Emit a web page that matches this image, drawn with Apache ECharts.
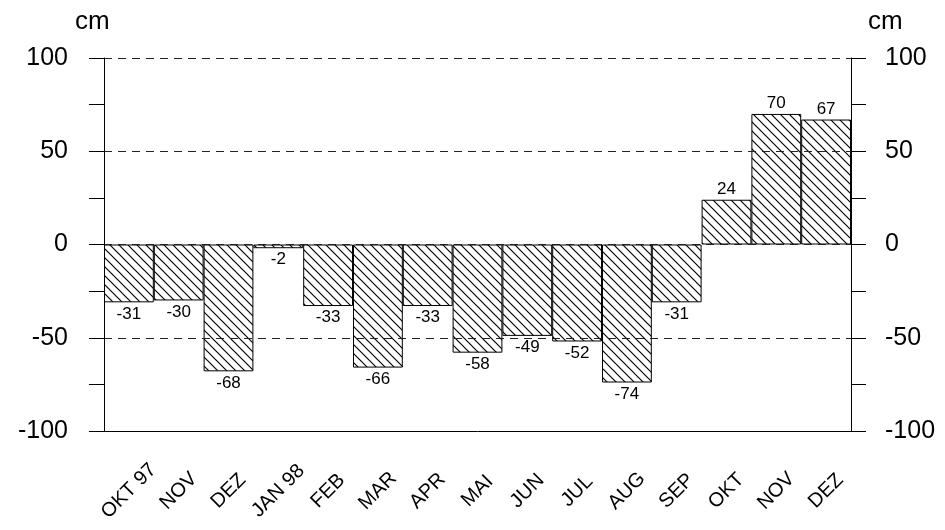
<!DOCTYPE html>
<html>
<head>
<meta charset="utf-8">
<script src="https://cdn.jsdelivr.net/npm/echarts@6/dist/echarts.min.js"></script>
<style>
html,body{margin:0;padding:0;background:#fff;}
#chart{width:945px;height:530px;}
</style>
</head>
<body>
<div id="chart"></div>
<script>
const categories = ['OKT 97','NOV','DEZ','JAN 98','FEB','MAR','APR','MAI','JUN','JUL','AUG','SEP','OKT','NOV','DEZ'];
const values = [-31,-30,-68,-2,-33,-66,-33,-58,-49,-52,-74,-31,24,70,67];
const yTicks = [-100,-50,0,50,100];
const unitLabel = 'cm';

const FONT = '"Liberation Sans", Arial, Helvetica, sans-serif';

// hatch pattern
const S = 9;
const hc = document.createElement('canvas');
hc.width = S; hc.height = S;
const hx = hc.getContext('2d');
hx.fillStyle = '#fff';
hx.fillRect(0,0,S,S);
hx.strokeStyle = '#000';
hx.lineWidth = 1.15;
hx.beginPath();
hx.moveTo(-1,-1); hx.lineTo(S+1,S+1);
hx.moveTo(-1,S-1); hx.lineTo(1,S+1);
hx.moveTo(S-1,-1); hx.lineTo(S+1,1);
hx.stroke();

const chart = echarts.init(document.getElementById('chart'), null, {renderer:'canvas'});

const yCommon = {
  type: 'value',
  min: yTicks[0],
  max: yTicks[yTicks.length-1],
  interval: 50,
  z: 5,
  axisLine: {show: true, lineStyle: {color: '#000', width: 1}},
  axisTick: {show: true, length: 15, lineStyle: {color: '#000'}},
  minorTick: {show: true, splitNumber: 2, length: 15, lineStyle: {color: '#000'}},
  axisLabel: {fontSize: 25, color: '#000', fontFamily: FONT},
};

chart.setOption({
  animation: false,
  backgroundColor: '#fff',
  grid: {left: 104, right: 94, top: 58, bottom: 99},
  graphic: [
    {type: 'text', left: 75, top: 9, style: {text: unitLabel, fontSize: 26, fontFamily: FONT, fill: '#000'}},
    {type: 'text', left: 868, top: 9, style: {text: unitLabel, fontSize: 26, fontFamily: FONT, fill: '#000'}}
  ],
  xAxis: {
    type: 'category',
    data: categories,
    position: 'bottom',
    z: 6,
    axisLine: {onZero: false, lineStyle: {color: '#000', width: 1}},
    axisTick: {alignWithLabel: true, length: 14, lineStyle: {color: '#000'}},
    axisLabel: {
      rotate: 45, align: 'center', verticalAlign: 'middle', margin: 60,
      fontSize: 20, color: '#000', fontFamily: FONT, interval: 0
    },
    splitLine: {show: false}
  },
  yAxis: [
    Object.assign({}, yCommon, {
      position: 'left',
      axisLabel: Object.assign({}, yCommon.axisLabel, {margin: 36}),
      splitLine: {show: true, lineStyle: {color: '#222', type: [8,6], width: 1}}
    }),
    Object.assign({}, yCommon, {
      position: 'right',
      axisLabel: Object.assign({}, yCommon.axisLabel, {margin: 34}),
      splitLine: {show: false}
    })
  ],
  series: [{
    type: 'bar',
    data: values.map(v => ({
      value: v,
      label: {position: v < 0 ? 'bottom' : 'top', distance: v < 0 ? 3 : 2}
    })),
    barCategoryGap: '0%',
    itemStyle: {color: {image: hc, repeat: 'repeat'}, borderColor: '#000', borderWidth: 1},
    label: {show: true, fontSize: 17, color: '#000', fontFamily: FONT},
    z: 2
  }]
});
</script>
</body>
</html>
